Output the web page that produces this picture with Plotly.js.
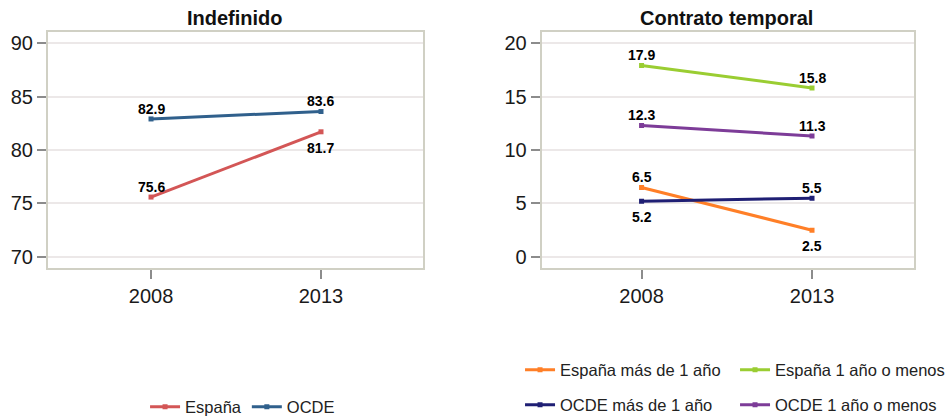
<!DOCTYPE html>
<html>
<head>
<meta charset="utf-8">
<script src="https://cdn.plot.ly/plotly-3.0.1.min.js"></script>
<style>
  html, body { margin: 0; padding: 0; background: #ffffff; }
  #chart { width: 945px; height: 416px; }
</style>
</head>
<body>
<div id="chart"></div>
<script>
// Data
const years = ['2008', '2013'];

// Indefinido panel
const indefEspana = [75.6, 81.7];
const indefOcde = [82.9, 83.6];

// Contrato temporal panel
const tempEspanaMas1 = [6.5, 2.5];
const tempEspana1Menos = [17.9, 15.8];
const tempOcdeMas1 = [5.2, 5.5];
const tempOcde1Menos = [12.3, 11.3];

const FONT = 'Liberation Sans, Arial, sans-serif';

// Series definitions (which panel, legend, colour, label side)
const series = [
    { name: 'España', values: indefEspana, panel: 1, legend: 'legend', color: '#d35656', side: ['up', 'down'] },
    { name: 'OCDE', values: indefOcde, panel: 1, legend: 'legend', color: '#30608c', side: ['up', 'up'] },
    { name: 'España más de 1 año', values: tempEspanaMas1, panel: 2, legend: 'legend2', color: '#ff7f27', side: ['up', 'down'] },
    { name: 'España 1 año o menos', values: tempEspana1Menos, panel: 2, legend: 'legend2', color: '#9acd32', side: ['up', 'up'] },
    { name: 'OCDE más de 1 año', values: tempOcdeMas1, panel: 2, legend: 'legend3', color: '#1f1f74', side: ['down', 'up'] },
    { name: 'OCDE 1 año o menos', values: tempOcde1Menos, panel: 2, legend: 'legend3', color: '#7d3c98', side: ['up', 'up'] }
];

const data = series.map(s => ({
    type: 'scatter',
    mode: 'lines+markers',
    x: years,
    y: s.values,
    name: s.name,
    xaxis: s.panel === 1 ? 'x' : 'x2',
    yaxis: s.panel === 1 ? 'y' : 'y2',
    legend: s.legend,
    line: { color: s.color, width: 3 },
    marker: { color: s.color, symbol: 'square', size: 5 },
    hoverinfo: 'x+y+name'
}));

// Value labels, anchored on the data through the axes
// (x given as the category index, so '2008' is not read as a number)
const annotations = [];
series.forEach(s => {
    s.values.forEach((v, i) => {
        annotations.push({
            xref: s.panel === 1 ? 'x' : 'x2',
            yref: s.panel === 1 ? 'y' : 'y2',
            x: i,
            y: v,
            text: '<b>' + v.toFixed(1) + '</b>',
            showarrow: false,
            xanchor: 'center',
            yanchor: 'middle',
            yshift: s.side[i] === 'up' ? 10 : -16,
            font: { family: FONT, size: 14, color: '#000000' }
        });
    });
});

// Panel titles
annotations.push({
    xref: 'paper', yref: 'paper', x: 0.2487, y: 0.9567,
    xanchor: 'center', yanchor: 'middle',
    text: '<b>Indefinido</b>', showarrow: false,
    font: { family: FONT, size: 20, color: '#111111' }
});
annotations.push({
    xref: 'paper', yref: 'paper', x: 0.769, y: 0.9567,
    xanchor: 'center', yanchor: 'middle',
    text: '<b>Contrato temporal</b>', showarrow: false,
    font: { family: FONT, size: 20, color: '#111111' }
});

const xAxisBase = {
    type: 'category',
    showline: true, mirror: true, linecolor: '#d0d0c4', linewidth: 2,
    showgrid: false, zeroline: false,
    ticks: 'outside', ticklen: 9, tickwidth: 2, tickcolor: '#8c8c8c',
    tickfont: { family: FONT, size: 20, color: '#1a1a1a' },
    fixedrange: true
};
const yAxisBase = {
    showline: true, mirror: true, linecolor: '#d0d0c4', linewidth: 2,
    showgrid: true, gridcolor: '#ece8e8', gridwidth: 2, zeroline: false,
    ticks: 'outside', ticklen: 9, tickwidth: 2, tickcolor: '#8c8c8c',
    tickfont: { family: FONT, size: 20, color: '#1a1a1a' },
    fixedrange: true
};

const legendBase = {
    orientation: 'h',
    yanchor: 'middle',
    xanchor: 'left',
    bgcolor: 'rgba(0,0,0,0)',
    borderwidth: 0,
    font: { family: FONT, size: 16.5, color: '#222222' },
    itemclick: false, itemdoubleclick: false
};

const layout = {
    width: 945,
    height: 416,
    // margins stay at zero, so paper == whole picture and the legends do not shrink the plots
    margin: { l: 0, r: 0, t: 0, b: 0, autoexpand: false },
    paper_bgcolor: '#ffffff',
    plot_bgcolor: '#ffffff',
    font: { family: FONT },
    showlegend: true,
    xaxis: Object.assign({}, xAxisBase, { domain: [0.0508, 0.4476], range: [-0.606, 1.6], anchor: 'y' }),
    yaxis: Object.assign({}, yAxisBase, { domain: [0.3558, 0.9231], range: [68.97, 91.03], tickvals: [70, 75, 80, 85, 90], anchor: 'x' }),
    xaxis2: Object.assign({}, xAxisBase, { domain: [0.5732, 0.9675], range: [-0.586, 1.6], anchor: 'y2' }),
    yaxis2: Object.assign({}, yAxisBase, { domain: [0.3558, 0.9231], range: [-1.03, 21.03], tickvals: [0, 5, 10, 15, 20], anchor: 'x2' }),
    legend: Object.assign({}, legendBase, { x: 0.1535, y: 0.0216 }),
    legend2: Object.assign({}, legendBase, { x: 0.5503, y: 0.1106, entrywidth: 170, entrywidthmode: 'pixels' }),
    legend3: Object.assign({}, legendBase, { x: 0.5503, y: 0.0264, entrywidth: 170, entrywidthmode: 'pixels' }),
    annotations: annotations
};

Plotly.newPlot('chart', data, layout, { displayModeBar: false, responsive: false });
</script>
</body>
</html>
